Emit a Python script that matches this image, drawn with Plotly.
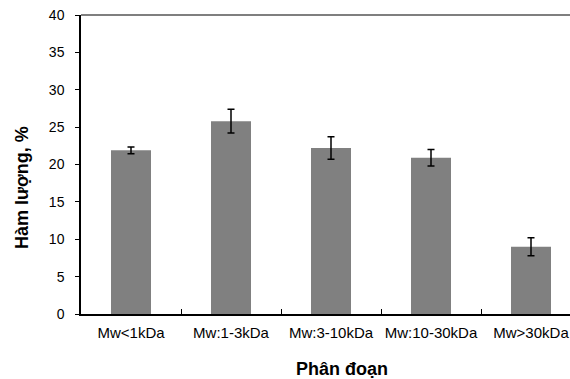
import plotly.graph_objects as go

categories = ["Mw<1kDa", "Mw:1-3kDa", "Mw:3-10kDa", "Mw:10-30kDa", "Mw>30kDa"]
values = [21.9, 25.8, 22.2, 20.9, 9.0]
errors = [0.45, 1.6, 1.5, 1.1, 1.2]
y_ticks = [0, 5, 10, 15, 20, 25, 30, 35, 40]

FONT = "Liberation Sans, Arial, sans-serif"

fig = go.Figure()
fig.add_trace(go.Bar(
    x=categories,
    y=values,
    width=0.4,
    marker=dict(color="#808080", line=dict(width=0)),
    error_y=dict(type="data", array=errors, visible=True,
                 color="#000000", thickness=1.5, width=3.5),
))

fig.update_layout(
    width=570, height=379,
    margin=dict(l=81, r=0, t=15, b=65, autoexpand=False),
    paper_bgcolor="white", plot_bgcolor="white",
    showlegend=False,
    font=dict(family=FONT, size=14, color="#000000"),
    xaxis=dict(
        range=[-0.5, 4.39],
        automargin=False,
        tickangle=0,
        showline=True, linecolor="#000000", linewidth=1.5,
        ticks="inside", tickson="boundaries", ticklen=5,
        tickcolor="#000000", tickwidth=1,
        showgrid=False, zeroline=False,
        tickfont=dict(family=FONT, size=15),
        ticklabelstandoff=4,
    ),
    yaxis=dict(
        range=[0, 40],
        automargin=False,
        tickvals=y_ticks,
        showline=True, linecolor="#000000", linewidth=1.5,
        ticks="outside", ticklen=4, tickcolor="#000000", tickwidth=1,
        showgrid=False, zeroline=False,
        tickfont=dict(family=FONT, size=14),
        ticklabelstandoff=8,
    ),
    shapes=[dict(type="line", xref="paper", yref="paper", x0=0, x1=1, y0=1, y1=1,
                 line=dict(color="#555555", width=1.5))],
    annotations=[
        dict(text="<b>Phân đoạn</b>", xref="paper", yref="paper",
             x=(342 - 81) / 489, y=-(369 - 314) / 299, xanchor="center", yanchor="middle",
             showarrow=False, font=dict(family=FONT, size=18)),
        dict(text="<b>Hàm lượng, %</b>", xref="paper", yref="paper",
             x=-(81 - 22) / 489, y=(314 - 188) / 299, xanchor="center", yanchor="middle",
             textangle=-90, showarrow=False, font=dict(family=FONT, size=18)),
    ],
)

fig.write_html("out.html", config={"displayModeBar": False},
               post_script="document.body.style.margin='0';document.body.style.padding='0';")
